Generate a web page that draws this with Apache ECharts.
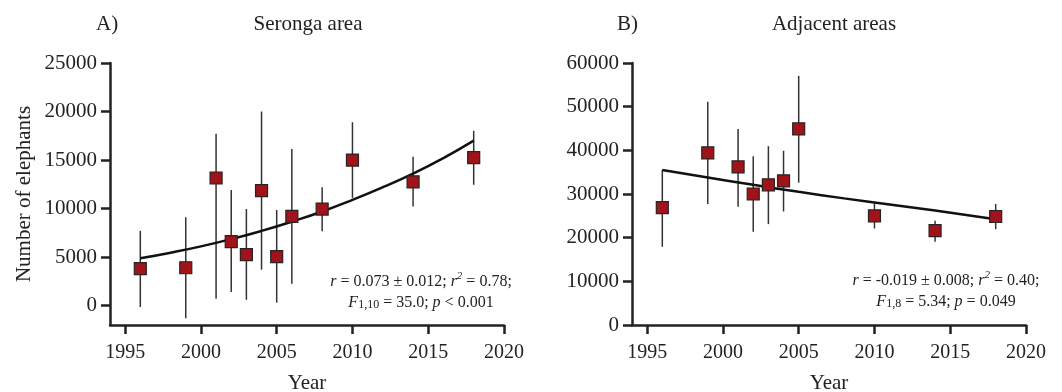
<!DOCTYPE html>
<html>
<head>
<meta charset="utf-8">
<script src="https://cdn.jsdelivr.net/npm/echarts@6/dist/echarts.min.js"></script>
<style>
html,body{margin:0;padding:0;background:#fff;}
#chart{width:1062px;height:392px;}
</style>
</head>
<body>
<div id="chart"></div>
<script>
// ---- Data ----
const xTicks = [1995, 2000, 2005, 2010, 2015, 2020];
const yTicksA = [0, 5000, 10000, 15000, 20000, 25000];
const yTicksB = [0, 10000, 20000, 30000, 40000, 50000, 60000];

const yearsA = [1996, 1999, 2001, 2002, 2003, 2004, 2005, 2006, 2008, 2010, 2014, 2018];
const valuesA = [3800, 3900, 13150, 6600, 5250, 11850, 5050, 9200, 9950, 15000, 12750, 15250];
const lowA = [-150, -1300, 700, 1400, 600, 3700, 300, 2250, 7650, 11100, 10200, 12450];
const highA = [7700, 9100, 17700, 11900, 9950, 20000, 9850, 16150, 12200, 18900, 15350, 18000];
const trendYearsA = [1996, 1998, 2000, 2002, 2004, 2006, 2008, 2010, 2012, 2014, 2016, 2018];
const trendA = [4870, 5450, 6100, 6850, 7700, 8650, 9700, 10900, 12200, 13600, 15200, 17000];

const yearsB = [1996, 1999, 2001, 2002, 2003, 2004, 2005, 2010, 2014, 2018];
const valuesB = [26900, 39400, 36200, 30000, 32100, 33000, 44900, 25000, 21600, 24850];
const lowB = [17900, 27700, 27100, 21350, 23100, 26000, 32600, 22100, 19050, 21950];
const highB = [35500, 51150, 44900, 38650, 40950, 39900, 57050, 27850, 23850, 27700];
const trendYearsB = [1996, 1999, 2002, 2005, 2008, 2011, 2014, 2018];
const trendB = [35500, 33800, 32100, 30500, 29000, 27600, 26200, 24200];

const titles = ['Seronga area', 'Adjacent areas'];
const panelLabels = ['A)', 'B)'];
const statsA = ['{i|r} = 0.073 ± 0.012; {i|r}{sup|2} = 0.78;', '{i|F}{sub|1,10} = 35.0; {i|p} < 0.001'];
const statsB = ['{i|r} = -0.019 ± 0.008; {i|r}{sup|2} = 0.40;', '{i|F}{sub|1,8} = 5.34; {i|p} = 0.049'];

// ---- Styling ----
const FONT = 'Liberation Serif';
const TXT = '#222';
const chart = echarts.init(document.getElementById('chart'), null, {renderer: 'canvas'});

function pairs(xs, ys) { return xs.map((x, i) => [x, ys[i]]); }
function bars(xs, lo, hi) { return xs.map((x, i) => [x, lo[i], hi[i]]); }

function xAxisDef(gridIndex) {
  return {
    type: 'value', gridIndex, min: 1994, max: 2020,
    name: 'Year', nameLocation: 'middle', nameGap: 48,
    nameTextStyle: {fontFamily: FONT, fontSize: 21, color: TXT},
    axisLine: {onZero: false, lineStyle: {color: '#222', width: 2.5}},
    axisTick: {show: true, inside: false, customValues: xTicks, length: 9, lineStyle: {color: '#222', width: 2.5}},
    axisLabel: {customValues: xTicks, formatter: v => String(v), fontFamily: FONT, fontSize: 20, color: TXT, margin: 18},
    splitLine: {show: false}
  };
}
function yAxisA() {
  return {
    type: 'value', gridIndex: 0, min: -2000, max: 25000,
    name: 'Number of elephants', nameLocation: 'middle', nameGap: 75,
    nameTextStyle: {fontFamily: FONT, fontSize: 21, color: TXT},
    axisLine: {show: true, onZero: false, lineStyle: {color: '#222', width: 2.5}},
    axisTick: {show: true, inside: false, customValues: yTicksA, length: 9, lineStyle: {color: '#222', width: 2.5}},
    axisLabel: {customValues: yTicksA, formatter: v => String(v), fontFamily: FONT, fontSize: 21, color: TXT, margin: 13},
    splitLine: {show: false}
  };
}
function yAxisB() {
  return {
    type: 'value', gridIndex: 1, min: yTicksB[0], max: yTicksB[yTicksB.length - 1], interval: 10000,
    axisLine: {show: true, onZero: false, lineStyle: {color: '#222', width: 2.5}},
    axisTick: {show: true, inside: false, length: 9, lineStyle: {color: '#222', width: 2.5}},
    axisLabel: {formatter: v => String(v), fontFamily: FONT, fontSize: 21, color: TXT, margin: 13},
    splitLine: {show: false}
  };
}

function errSeries(idx, data) {
  return {
    type: 'custom', xAxisIndex: idx, yAxisIndex: idx, z: 1,
    data,
    renderItem: (params, api) => {
      const p1 = api.coord([api.value(0), api.value(1)]);
      const p2 = api.coord([api.value(0), api.value(2)]);
      return {type: 'line', shape: {x1: p1[0], y1: p1[1], x2: p2[0], y2: p2[1]},
        style: {stroke: '#333', lineWidth: 1.5}};
    },
    silent: true
  };
}
function trendSeries(idx, data) {
  return {type: 'line', xAxisIndex: idx, yAxisIndex: idx, z: 2, data, smooth: true,
    showSymbol: false, lineStyle: {color: '#111', width: 2.5}, silent: true};
}
function pointSeries(idx, data) {
  return {type: 'scatter', xAxisIndex: idx, yAxisIndex: idx, z: 3, data, symbol: 'rect', symbolSize: 12,
    itemStyle: {color: '#a0131a', borderColor: '#2a2222', borderWidth: 1.2, opacity: 1}, silent: true};
}

const richStats = {
  i: {fontStyle: 'italic', fontFamily: FONT, fontSize: 16, color: TXT},
  sup: {fontStyle: 'italic', fontFamily: FONT, fontSize: 11, color: TXT, verticalAlign: 'top', lineHeight: 22},
  sub: {fontFamily: FONT, fontSize: 12, color: TXT, verticalAlign: 'bottom', lineHeight: 16}
};
function statsText(lines, cx, y) {
  return lines.map((l, k) => ({
    type: 'text', x: cx, y: y + k * 21, z: 10,
    style: {text: l, fontFamily: FONT, fontSize: 16, fill: TXT, align: 'center', verticalAlign: 'middle', rich: richStats}
  }));
}

const option = {
  animation: false,
  backgroundColor: '#fff',
  textStyle: {fontFamily: FONT},
  grid: [
    {left: 110, top: 63, width: 394, height: 262, containLabel: false, outerBoundsMode: 'none'},
    {left: 632, top: 63, width: 394, height: 262, containLabel: false, outerBoundsMode: 'none'}
  ],
  title: [
    {text: panelLabels[0], left: 91, top: 9, textStyle: {fontFamily: FONT, fontSize: 21, fontWeight: 'normal', color: TXT}},
    {text: titles[0], left: 303, top: 9, textAlign: 'center', textStyle: {fontFamily: FONT, fontSize: 21, fontWeight: 'normal', color: TXT}},
    {text: panelLabels[1], left: 612, top: 9, textStyle: {fontFamily: FONT, fontSize: 21, fontWeight: 'normal', color: TXT}},
    {text: titles[1], left: 829, top: 9, textAlign: 'center', textStyle: {fontFamily: FONT, fontSize: 21, fontWeight: 'normal', color: TXT}}
  ],
  xAxis: [xAxisDef(0), xAxisDef(1)],
  yAxis: [yAxisA(), yAxisB()],
  series: [
    errSeries(0, bars(yearsA, lowA, highA)),
    trendSeries(0, pairs(trendYearsA, trendA)),
    pointSeries(0, pairs(yearsA, valuesA)),
    errSeries(1, bars(yearsB, lowB, highB)),
    trendSeries(1, pairs(trendYearsB, trendB)),
    pointSeries(1, pairs(yearsB, valuesB))
  ],
  graphic: [].concat(statsText(statsA, 421, 282), statsText(statsB, 946, 281))
};
chart.setOption(option);
</script>
</body>
</html>
